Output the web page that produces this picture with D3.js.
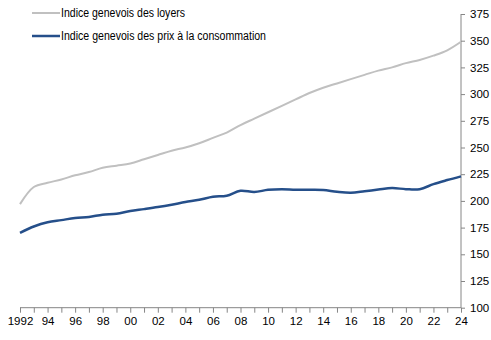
<!DOCTYPE html>
<html><head><meta charset="utf-8">
<script src="https://cdn.jsdelivr.net/npm/d3@7"></script>
<style>body{margin:0;background:#fff}svg{display:block}</style>
</head><body>
<svg id="c" width="491" height="340"></svg>
<script>
const years = d3.range(1992, 2025);
const loyers = [197,213,217,220,224,227,231,233,235,239,243,247,250,254,259,264,271,277,283,289,295,301,306,310,314,318,322,325,329,332,336,341,349];
const prix = [170,176,180,182,184,185,187,188,190.5,192.3,194.2,196.4,198.9,201,203.9,204.8,209.5,208.3,210.4,211,210.4,210.4,210.2,208.5,207.6,209,210.6,212,211,211,215.7,219.5,223];
const yTicks = [100,125,150,175,200,225,250,275,300,325,350,375];
const xLabels = d3.range(1992, 2025, 2);
const seriesNames = ["Indice genevois des loyers", "Indice genevois des prix à la consommation"];
const colors = ["#c0c0c0", "#254f8a"];

const svg = d3.select("#c");
const font = "'Liberation Sans', Arial, sans-serif";
const x = d3.scaleLinear().domain([1992, 2024]).range([20, 461]);
const y = d3.scaleLinear().domain([100, 375]).range([307.7, 14]);

// y axis on right
const ya = svg.append("g").attr("transform", "translate(461,0)")
  .call(d3.axisRight(y).tickValues(yTicks).tickSize(4).tickPadding(5));
ya.select(".domain").attr("stroke", "#868686").attr("d", "M0,14V307.7");
ya.selectAll(".tick line").attr("stroke", "#868686");
ya.selectAll("text").attr("font-family", font).attr("font-size", 11.5).attr("fill", "#000");

// x axis
const xa = svg.append("g").attr("transform", "translate(0,307.7)")
  .call(d3.axisBottom(x).tickValues(years).tickSize(5).tickPadding(4)
    .tickFormat(d => xLabels.includes(d) ? (d === 1992 ? "1992" : String(d).slice(2)) : ""));
xa.select(".domain").attr("stroke", "#868686").attr("d", "M20,0H461");
xa.selectAll(".tick line").attr("stroke", "#868686");
xa.selectAll("text").attr("font-family", font).attr("font-size", 11.5).attr("fill", "#000");

const line = d3.line().x((d, i) => x(years[i])).y(d => y(d)).curve(d3.curveCatmullRom.alpha(0.5));
svg.append("path").datum(loyers).attr("d", line).attr("fill", "none").attr("stroke", colors[0]).attr("stroke-width", 2);
svg.append("path").datum(prix).attr("d", line).attr("fill", "none").attr("stroke", colors[1]).attr("stroke-width", 2.5);

// legend
const legW = [124, 205];
const leg = svg.append("g");
seriesNames.forEach((n, i) => {
  const ly = 13 + i * 23;
  leg.append("line").attr("x1", 32).attr("x2", 60).attr("y1", ly).attr("y2", ly)
    .attr("stroke", colors[i]).attr("stroke-width", i ? 2.5 : 2);
  leg.append("text").attr("x", 61).attr("y", ly + 4).text(n)
    .attr("textLength", legW[i]).attr("lengthAdjust", "spacingAndGlyphs")
    .attr("font-family", font).attr("font-size", 12).attr("fill", "#000");
});
</script>
</body></html>
